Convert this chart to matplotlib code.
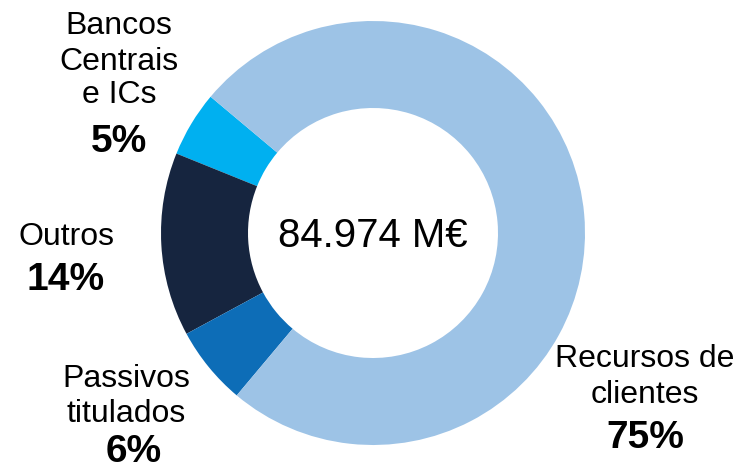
import matplotlib.pyplot as plt

plt.rcParams['font.family'] = ['Liberation Sans', 'DejaVu Sans']

# composição do passivo (%), no sentido anti-horário a partir de Bancos Centrais
categorias = ['Bancos Centrais e ICs', 'Outros', 'Passivos titulados', 'Recursos de clientes']
valores = [5, 14, 6, 75]
cores = ['#00B0F0', '#16253F', '#0D6DB7', '#9DC3E6']
total = '84.974 M€'

W, H = 741, 472
fig = plt.figure(figsize=(W / 100, H / 100), dpi=100)
ax = fig.add_axes([0, 0, 1, 1])

cx, cy, r, r_int = 373, H - 233, 212, 125
ax.pie(valores, colors=cores, startangle=140, counterclock=True,
       center=(cx, cy), radius=r, frame=True,
       wedgeprops=dict(width=r - r_int, linewidth=0))
ax.set_xlim(0, W)
ax.set_ylim(0, H)
ax.set_aspect('equal')
ax.axis('off')

ax.text(cx, H - 247, total, ha='center', va='baseline', fontsize=29)


def rotulo(x, linhas, bases, pct, base_pct, x_pct=None):
    for linha, b in zip(linhas, bases):
        ax.text(x, H - b, linha, ha='center', va='baseline', fontsize=23)
    ax.text(x if x_pct is None else x_pct, H - base_pct, pct,
            ha='center', va='baseline', fontsize=28, fontweight='bold')


rotulo(119, ['Bancos', 'Centrais', 'e ICs'], [34, 70, 103], f'{valores[0]}%', 152)
rotulo(66, ['Outros'], [245], f'{valores[1]}%', 290)
rotulo(126, ['Passivos', 'titulados'], [387, 422], f'{valores[2]}%', 462, x_pct=134)
rotulo(645, ['Recursos de', 'clientes'], [367, 403], f'{valores[3]}%', 448)

fig.savefig('out.png', dpi=100)
